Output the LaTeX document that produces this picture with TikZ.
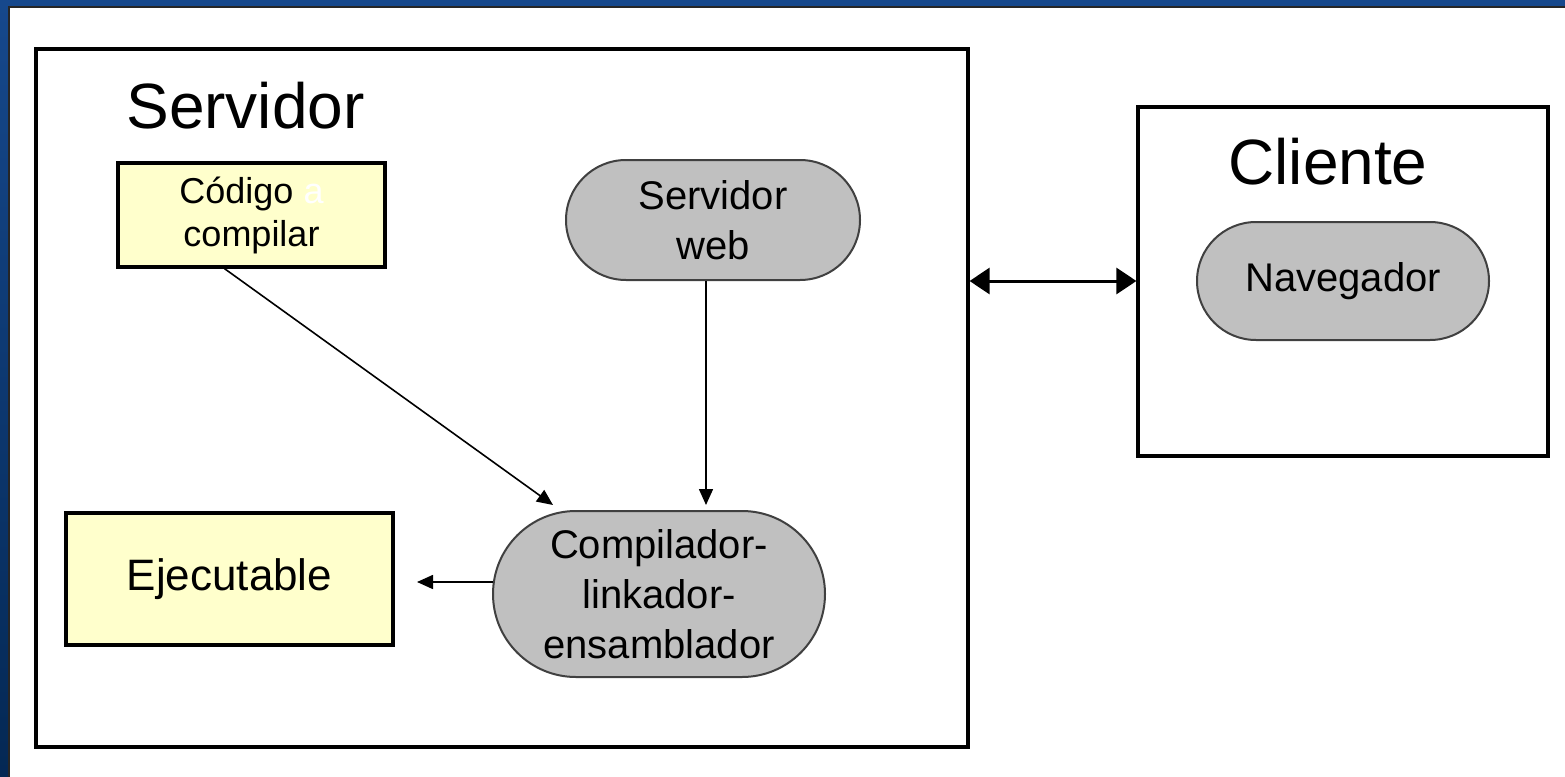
\documentclass[tikz,border=0pt]{standalone}
\usepackage{fontspec}
\setmainfont{Liberation Sans}
\usetikzlibrary{arrows.meta,calc,shapes.misc}

\definecolor{slideblue}{RGB}{22,72,140}
\definecolor{slidedark}{RGB}{4,40,84}
\definecolor{noteyellow}{RGB}{255,255,204}
\definecolor{procgray}{RGB}{192,192,192}

\begin{document}
\begin{tikzpicture}[x=0.5pt,y=-0.5pt,
  frame/.style={draw=black,line width=1.6pt,fill=white,inner sep=0pt},
  filebox/.style={draw=black,line width=1.6pt,fill=noteyellow,inner sep=0pt,
    align=center},
  proc/.style={rounded rectangle,draw=black!75,line width=1pt,fill=procgray,
    inner sep=0pt,align=center,font=\fontsize{20}{25}\selectfont},
  title/.style={font=\fontsize{32}{38}\selectfont,anchor=base west,inner sep=0pt},
  conn/.style={line width=0.8pt,-{Triangle[length=8pt,width=7pt]}},
  link/.style={line width=1.5pt,{Triangle[length=10pt,width=13pt]}-{Triangle[length=10pt,width=13pt]}}
]
% slide background and white canvas
\shade[top color=slideblue,bottom color=slidedark] (0,0) rectangle (1565,777);
\useasboundingbox (0,0) rectangle (1565,777);
\fill[white] (9,7) rectangle (1565,777);
\draw[black!85,line width=0.8pt] (9,777) -- (9,7) -- (1565,7);

% server side
\node[frame,minimum width=466pt,minimum height=349pt] (srv) at (502,398) {};
\node[title] (srvlabel) at (126,128) {Servidor};

\node[filebox,minimum width=133.5pt,minimum height=52pt,
  font=\fontsize{18}{21.5}\selectfont] (code) at (251.5,215)
  {Código \textcolor{white}{a}\\compilar};
\node[proc,minimum width=147pt,minimum height=60pt] (web) at (713,220)
  {Servidor\\web};
\node[filebox,minimum width=163.5pt,minimum height=66pt,
  font=\fontsize{22}{26}\selectfont] (exe) at (229.5,579) {Ejecutable};
\node[proc,minimum width=166pt,minimum height=83pt] (comp) at (659,594)
  {Compilador-\\linkador-\\ensamblador};

% client side
\node[frame,minimum width=205pt,minimum height=174.5pt] (cli) at (1343,281.5) {};
\node[title] (clilabel) at (1228,184) {Cliente};
\node[proc,minimum width=146pt,minimum height=59pt] (nav) at (1343,281)
  {Navegador};

% connectors
\coordinate (codeout) at ($(code.south west)!0.4!(code.south east)$);
\coordinate (compin) at ($(comp.north)+(-106,-5)$);
\draw[conn] (codeout) -- (compin);

\coordinate (webout) at ($(web.south)+(-7,0)$);
\coordinate (webin) at ($(comp.north)+(47,-5)$);
\draw[conn] (webout) -- (webin);

\coordinate (compout) at ($(comp.west)+(1,-12)$);
\coordinate (exein) at ($(compout)+(-76,0)$);
\draw[conn] (compout) -- (exein);

\draw[link] (srv.east |- nav) -- (cli.west |- nav);
\end{tikzpicture}
\end{document}
